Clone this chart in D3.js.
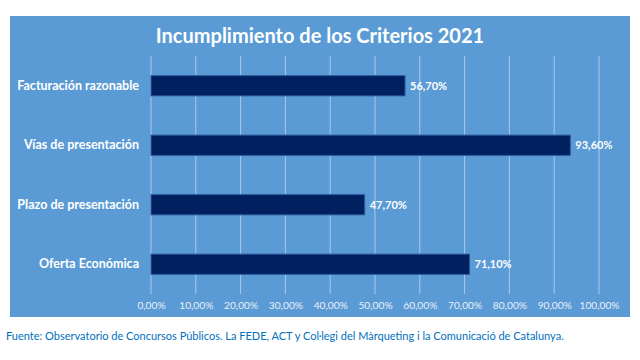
<!DOCTYPE html>
<html><head><meta charset="utf-8">
<script src="https://cdn.jsdelivr.net/npm/d3@7"></script>
<style>body{margin:0;background:#fff}svg{display:block}</style>
</head><body>
<script>
const categories = ["Facturación razonable","Vías de presentación","Plazo de presentación","Oferta Económica"];
const values = [56.7, 93.6, 47.7, 71.1];
const tickValues = [0,10,20,30,40,50,60,70,80,90,100];
const title = "Incumplimiento de los Criterios 2021";
const source = "Fuente: Observatorio de Concursos Públicos. La FEDE, ACT y Col·legi del Màrqueting i la Comunicació de Catalunya.";

const W=640,H=360;
const svg=d3.select("body").append("svg").attr("width",W).attr("height",H);
const font="Lato, 'Open Sans', sans-serif";
svg.append("rect").attr("x",10).attr("y",16).attr("width",620).attr("height",301).attr("fill","#5B9BD5");
svg.append("text").attr("x",320).attr("y",43).attr("text-anchor","middle").attr("fill","#fff")
  .attr("font-family",font).attr("font-weight","bold").attr("font-size",20).text(title);

const x=d3.scaleLinear().domain([0,100]).range([151,599]);
const y=d3.scaleBand().domain(categories).range([56,294]).paddingInner(0.66).paddingOuter(0.33);
const fmt=v=>d3.format(".2f")(v).replace(".",",")+"%";

svg.append("g").selectAll("line").data(tickValues).join("line")
  .attr("x1",d=>x(d)).attr("x2",d=>x(d)).attr("y1",56).attr("y2",294)
  .attr("stroke","#A8C8EA").attr("stroke-width",1);

const xAxis=d3.axisBottom(x).tickValues(tickValues).tickFormat(fmt).tickSize(0).tickPadding(0);
const gx=svg.append("g").attr("transform","translate(0,302)").call(xAxis);
gx.select(".domain").remove();
gx.selectAll("text").attr("fill","#E8EEF7").attr("font-family",font).attr("font-size",10.2);

const yAxis=d3.axisLeft(y).tickSize(0).tickPadding(0);
const gy=svg.append("g").attr("transform","translate(139,0)").call(yAxis);
gy.select(".domain").remove();
gy.selectAll("text").attr("fill","#fff").attr("font-family",font).attr("font-weight","bold").attr("font-size",12.5);

svg.append("g").selectAll("rect").data(categories).join("rect")
  .attr("x",x(0)).attr("y",d=>y(d)).attr("width",(d,i)=>x(values[i])-x(0)).attr("height",y.bandwidth())
  .attr("fill","#002060").attr("stroke","#2E5A9C").attr("stroke-width",1);

svg.append("g").selectAll("text").data(categories).join("text")
  .attr("x",(d,i)=>x(values[i])+5).attr("y",d=>y(d)+y.bandwidth()/2).attr("dy","0.35em")
  .attr("fill","#fff").attr("font-family",font).attr("font-weight","bold").attr("font-size",11)
  .text((d,i)=>fmt(values[i]));

svg.append("text").attr("x",6).attr("y",340).attr("fill","#0070C0").attr("font-family",font)
  .attr("font-size",11).text(source);
</script>
</body></html>
